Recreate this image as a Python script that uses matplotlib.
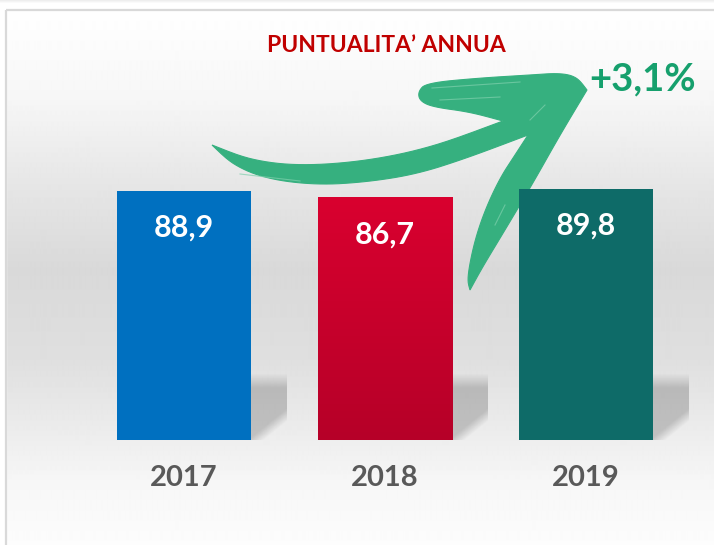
import matplotlib

matplotlib.use("Agg")
import matplotlib.pyplot as plt
import numpy as np
from matplotlib.patches import Polygon, Rectangle

plt.rcParams["font.family"] = ["Lato", "DejaVu Sans"]

# data
years = ["2017", "2018", "2019"]
values = [88.9, 86.7, 89.8]
change_label = "+3,1%"
title = "PUNTUALITA\u2019 ANNUA"

W, H = 714, 545
fig = plt.figure(figsize=(W / 100, H / 100), dpi=100)

# background layer, drawn in pixel coordinates (y from top)
bg = fig.add_axes([0, 0, 1, 1])
bg.set_xlim(0, W)
bg.set_ylim(H, 0)
bg.axis("off")

stops_y = [10, 100, 180, 270, 360, 430, 480, 545]
stops_v = [1.0, 0.965, 0.905, 0.85, 0.875, 0.925, 0.965, 0.99]
yy = np.arange(H)
shade = np.interp(yy, stops_y, stops_v)
shade[:10] = 1.0
shade[:4] = np.linspace(0.93, 1.0, 4)
grad = np.repeat(shade[:, None], 2, axis=1)
bg.imshow(grad, extent=[0, W, H, 0], cmap="gray", vmin=0, vmax=1,
          aspect="auto", interpolation="bilinear", zorder=0)
bg.add_patch(Rectangle((0, 4), 6, H, color="white", zorder=1))
bg.add_patch(Rectangle((6, 10), W + 20, H + 20, fill=False,
                       edgecolor="#d9d9d9", lw=1.6, zorder=2))


def smooth(pts, sharp, n=3):
    """Chaikin corner cutting that keeps the marked vertices sharp."""
    pts = [np.array(p, float) for p in pts]
    for _ in range(n):
        new_pts, new_sharp = [], []
        k = len(pts)
        for i in range(k):
            p = pts[i]
            if sharp[i]:
                new_pts.append(p)
                new_sharp.append(True)
                continue
            new_pts.append(0.75 * p + 0.25 * pts[i - 1])
            new_pts.append(0.75 * p + 0.25 * pts[(i + 1) % k])
            new_sharp += [False, False]
        pts, sharp = new_pts, new_sharp
    return np.array(pts)


# hand-drawn style arrow (decoration, pixel coords)
arrow_pts = [
    (212, 145), (250, 160), (300, 166), (367, 161), (433, 147), (503, 121),
    (470, 112), (433, 107), (420, 101), (418, 92), (426, 83),
    (480, 78), (530, 75), (560, 73), (577, 77), (587, 90),
    (560, 135), (533, 183), (505, 230), (482, 268), (470, 290),
    (467, 279), (474, 243), (485, 210), (500, 178), (515, 155), (528, 135),
    (467, 158), (417, 174), (367, 182), (317, 185), (267, 179), (233, 165),
]
sharp_idx = {0, 5, 15, 20, 26}
sharp = [i in sharp_idx for i in range(len(arrow_pts))]
bg.add_patch(Polygon(smooth(arrow_pts, sharp), closed=True, facecolor="#36b07f",
                     edgecolor="#36b07f", lw=0.8, zorder=3))
for seg in [[(432, 88), (520, 82)], [(440, 100), (500, 97)],
            [(530, 120), (545, 105)], [(240, 174), (300, 181)],
            [(505, 205), (495, 225)]]:
    xs, ys = zip(*seg)
    bg.plot(xs, ys, color="#7fd0ad", lw=0.8, alpha=0.7, zorder=4)

bg.text(386, 45, title, ha="center", va="center", fontsize=16.5,
        fontweight="bold", color="#c00000")
bg.text(643, 79, change_label, ha="center", va="center", fontsize=27.5,
        fontweight="bold", color="#16a06d")

# chart layer: bar centres 201 px apart, zero at 440 px from top, 2.8 px per unit
ax = fig.add_axes([0, 0, 1, 1])
ax.patch.set_alpha(0)
ax.axis("off")
px_x, px_y = 201.0, 2.8
ax.set_xlim(-184 / px_x, (W - 184) / px_x)
ax.set_ylim(-(H - 440) / px_y, 440 / px_y)

x = np.arange(len(years))
width = 134 / px_x
colors = ["#0070c0", "#d3002d", "#0e6b68"]
bars = ax.bar(x, values, width=width, color=colors, zorder=3)

# soft shadow to the right of each bar
sw, sh = 36 / px_x, 66 / px_y
u = np.linspace(0, 1, 60)[None, :]
v = np.linspace(1, 0, 80)[:, None]
edge = np.clip((0.15 + 2.3 * v - u) / 0.45 + 0.5, 0, 1)
top = np.clip((1 - v) / 0.22, 0, 1)
alpha = edge * top * 0.19
rgba = np.zeros((80, 60, 4))
rgba[..., 3] = alpha
for b in bars:
    x0 = b.get_x() + b.get_width()
    ax.imshow(rgba, extent=[x0, x0 + sw, 0, sh], aspect="auto",
              interpolation="bilinear", zorder=2)

# vertical gradient on the 2018 bar
b = bars[1]
b.set_facecolor("none")
g = np.linspace(0, 1, 100)[:, None]
c_top = np.array([0xd9, 0x00, 0x2f]) / 255
c_bot = np.array([0xb6, 0x00, 0x28]) / 255
img = (c_top * (1 - g[..., None]) + c_bot * g[..., None]).repeat(2, axis=1)
im = ax.imshow(img, extent=[b.get_x(), b.get_x() + b.get_width(), 0, b.get_height()],
               aspect="auto", interpolation="bilinear", zorder=3)
im.set_clip_path(b)

for xi, val in zip(x, values):
    ax.annotate(f"{val:.1f}".replace(".", ","), (xi, val), xytext=(0, -37),
                textcoords="offset pixels", ha="center", va="center",
                fontsize=22, fontweight="bold", color="white", zorder=5)
for xi, yr in zip(x, years):
    ax.annotate(yr, (xi, 0), xytext=(0, -38), textcoords="offset pixels",
                ha="center", va="center", fontsize=21, fontweight="bold",
                color="#595959")

fig.savefig("out.png", dpi=100)
